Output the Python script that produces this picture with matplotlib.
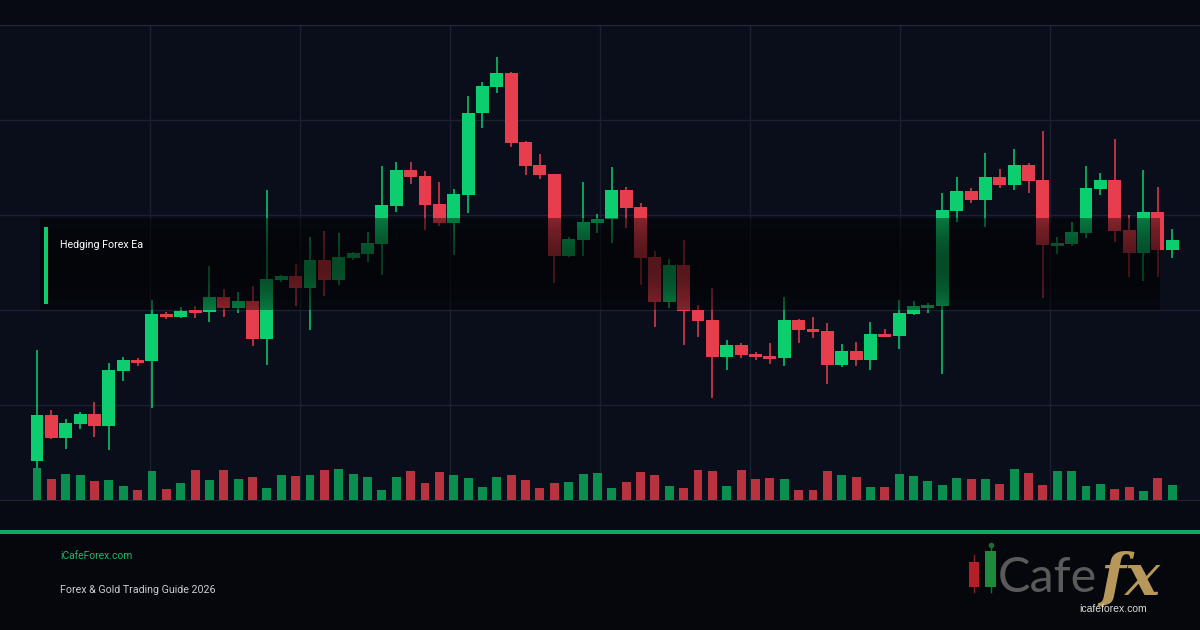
import matplotlib
matplotlib.use('Agg')
import matplotlib.pyplot as plt
import numpy as np
from matplotlib.patches import Rectangle
from matplotlib.lines import Line2D

# ---------------- data (price units, volume units) ----------------
opens = [39, 85, 62, 76, 86, 74, 129, 140, 139, 186, 183, 190, 188, 203, 192, 199,
         161, 220, 224, 212, 240, 220, 242, 246, 256, 294, 330, 324, 296, 277, 305, 387,
         413, 427, 358, 335, 326, 244, 260, 277, 281, 310, 293, 243, 198, 235, 190, 180,
         143, 155, 146, 144, 142, 180, 171, 169, 135, 149, 140, 166, 164, 186, 192, 194,
         289, 309, 300, 323, 315, 335, 320, 254, 256, 267, 311, 320, 270, 247, 288, 250]
highs = [150, 90, 81, 88, 98, 137, 143, 142, 200, 188, 193, 194, 234, 211, 208, 214,
         310, 225, 236, 263, 269, 267, 248, 268, 334, 338, 338, 329, 318, 311, 404, 418,
         443, 428, 359, 346, 326, 263, 318, 286, 333, 313, 297, 249, 241, 260, 195, 212,
         160, 157, 148, 157, 203, 181, 183, 177, 156, 158, 178, 171, 200, 199, 197, 307,
         323, 312, 347, 331, 351, 337, 369, 263, 278, 334, 327, 361, 285, 330, 313, 271]
lows = [32, 61, 51, 71, 63, 50, 119, 134, 92, 181, 182, 182, 178, 183, 187, 154,
        135, 218, 194, 170, 204, 215, 240, 238, 225, 288, 316, 270, 274, 245, 287, 372,
        407, 353, 325, 321, 217, 243, 244, 267, 257, 272, 215, 173, 192, 155, 163, 102,
        130, 142, 140, 136, 134, 157, 162, 116, 133, 134, 130, 163, 151, 185, 187, 126,
        278, 297, 273, 312, 310, 307, 202, 246, 254, 262, 305, 258, 223, 219, 223, 242]
closes = [85, 62, 77, 86, 74, 130, 140, 137, 186, 183, 189, 187, 203, 192, 199, 161,
          221, 224, 212, 240, 220, 243, 247, 257, 295, 330, 323, 295, 277, 306, 387, 414,
          427, 357, 334, 325, 244, 261, 278, 281, 310, 292, 242, 198, 235, 189, 179, 143,
          155, 145, 143, 141, 180, 170, 168, 135, 149, 140, 166, 163, 187, 194, 195, 290,
          309, 300, 323, 315, 335, 319, 255, 257, 268, 312, 320, 269, 247, 288, 250, 260]
volumes = [32, 21, 26, 25, 19, 20, 14, 10, 29, 11, 17, 30, 20, 30, 21, 23,
           12, 25, 24, 25, 30, 31, 26, 23, 10, 23, 29, 17, 28, 25, 22, 13,
           23, 25, 20, 12, 17, 18, 26, 27, 12, 18, 28, 25, 14, 12, 30, 29,
           14, 30, 21, 22, 21, 10, 10, 29, 25, 23, 13, 13, 26, 24, 19, 15,
           22, 21, 21, 16, 31, 27, 15, 29, 29, 14, 16, 11, 13, 9, 22, 15]

label_text = "Hedging Forex Ea"
site_text = "iCafeForex.com"
guide_text = "Forex & Gold Trading Guide 2026"
logo_word = "Cafe"
logo_fx = "fx"
logo_url = "icafeforex.com"

# ---------------- style ----------------
W, H = 1200, 630
UP, DOWN = '#0dce6e', '#e63e4c'
VUP, VDOWN = '#0a8f4f', '#b8333f'
BG_FIG, BG_AX = '#070a13', '#0a0e1b'
GRID = '#1b2131'


def fx(px):
    return px / W


def fy(py):
    return 1 - py / H


fig = plt.figure(figsize=(12, 6.3), dpi=100, facecolor=BG_FIG)

# footer background
fig.patches.append(Rectangle((0, 0), 1, fy(532), transform=fig.transFigure,
                             facecolor='#05070c', edgecolor='none', zorder=0))

ax = fig.add_axes([0, fy(500), 1, (500 - 25) / H])
ax.set_facecolor(BG_AX)

o = np.array(opens, float)
h = np.array(highs, float)
l = np.array(lows, float)
c = np.array(closes, float)
v = np.array(volumes, float)
x = np.arange(len(o))
up = c >= o
cols = np.where(up, UP, DOWN)
vcols = np.where(up, VUP, VDOWN)

px_per_bar = 14.37
xmin = -37 / px_per_bar
xmax = xmin + W / px_per_bar

ax.vlines(x, l, h, colors=cols, linewidth=1.1, zorder=2)
ax.bar(x, np.maximum(np.abs(c - o), 2.0), bottom=np.minimum(o, c), width=0.9,
       color=cols, zorder=3, linewidth=0)

ax.set_xlim(xmin, xmax)
ax.set_ylim(0, 475)
ax.set_yticks([95, 190, 285, 380])
ax.set_xticks(xmin + (xmax - xmin) * np.arange(1, 8) / 8)
ax.grid(True, color=GRID, linewidth=1, zorder=0)
ax.set_axisbelow(True)
ax.tick_params(length=0, labelbottom=False, labelleft=False)
for s in ['left', 'right']:
    ax.spines[s].set_visible(False)
ax.spines['top'].set_color('#232a3a')
ax.spines['bottom'].set_color('#1f2535')

# volume on a twin axis
axv = ax.twinx()
axv.set_ylim(0, 475)
axv.bar(x, v, width=0.62, color=vcols, linewidth=0, zorder=2)
axv.set_xlim(xmin, xmax)
axv.axis('off')

# dark translucent overlay box
ov = fig.add_axes([fx(40), fy(310), fx(1160) - fx(40), (310 - 218) / H])
t = np.linspace(0, 1, 200)
alpha = 0.42 + 0.22 * np.sin(np.pi * t)
rgba = np.zeros((200, 2, 4))
rgba[..., 3] = alpha[:, None]
ov.imshow(rgba, aspect='auto', extent=[0, 1, 0, 1], interpolation='bilinear')
ov.axis('off')

fig.patches.append(Rectangle((fx(44), fy(304)), fx(3.5), (304 - 227) / H,
                             transform=fig.transFigure, facecolor='#12c96c',
                             edgecolor='none', zorder=5))
fig.text(fx(60), fy(245), label_text, color='white', fontsize=7.7,
         family='Roboto', va='center', ha='left', zorder=6)

# footer line and texts
fig.patches.append(Rectangle((0, fy(534)), 1, 4 / H, transform=fig.transFigure,
                             facecolor='#10a864', edgecolor='none', zorder=2))
fig.text(fx(60), fy(556), site_text, color='#1db96a', fontsize=7.4,
         family='Roboto', va='center', ha='left')
fig.text(fx(60), fy(590), guide_text, color='#c9cdd6', fontsize=7.7,
         family='Roboto', va='center', ha='left')

# logo
fig.add_artist(Line2D([fx(974), fx(974)], [fy(555), fy(592)], color='#8a1e25', lw=1))
fig.patches.append(Rectangle((fx(969), fy(587)), fx(10), (587 - 562) / H,
                             transform=fig.transFigure, facecolor='#b3202a',
                             edgecolor='none', zorder=3))
fig.add_artist(Line2D([fx(990.5), fx(990.5)], [fy(545), fy(592)], color='#1a6e33', lw=1))
fig.add_artist(Line2D([fx(990.5)], [fy(545)], marker='o', markersize=3, color='#1a6e33'))
fig.patches.append(Rectangle((fx(985), fy(587)), fx(11), (587 - 551) / H,
                             transform=fig.transFigure, facecolor='#1e8a3c',
                             edgecolor='none', zorder=3))
fig.text(fx(998), fy(592), logo_word, color='#5a5a5a', fontsize=35,
         family='Lato', fontweight='normal', va='baseline', ha='left')
fig.text(fx(1100), fy(595), logo_fx, color='#b8985a', fontsize=42,
         family='DejaVu Serif', fontweight='bold', style='italic',
         va='baseline', ha='left')
fig.text(fx(1113), fy(609), logo_url, color='#dcdcdc', fontsize=7.5,
         family='Liberation Sans', va='center', ha='center', zorder=4)

fig.savefig('out.png', dpi=100, facecolor=BG_FIG)
